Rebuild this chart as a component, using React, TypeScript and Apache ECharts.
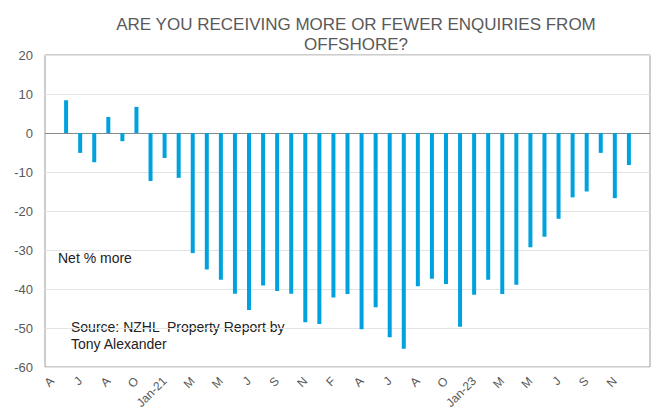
import React, { useEffect, useRef } from "react";
import * as echarts from "echarts";

const TITLE = "ARE YOU RECEIVING MORE OR FEWER ENQUIRIES FROM\nOFFSHORE?";
const NOTE = "Net % more";
const SOURCE = "Source: NZHL  Property Report by\nTony Alexander";

// Category labels as shown (every second one is displayed)
const categories = [
  "A", "M", "J", "J", "A", "S", "O", "N", "Jan-21", "F",
  "M", "A", "M", "J", "J", "A", "S", "O", "N", "Jan-22",
  "F", "M", "A", "M", "J", "J", "A", "S", "O", "N",
  "Jan-23", "F", "M", "A", "M", "J", "J", "A", "S", "O",
  "N", "D", "",
];

// Net % of respondents receiving more enquiries from offshore
const values: (number | null)[] = [
  null, 8.4, -5.1, -7.5, 4.1, -2.1, 6.7, -12.3, -6.4, -11.5,
  -30.8, -35.0, -37.6, -41.2, -45.4, -39.1, -40.5, -41.2, -48.5, -49.0,
  -42.2, -41.3, -50.3, -44.7, -52.4, -55.3, -39.3, -37.4, -38.7, -49.7,
  -41.5, -37.6, -41.3, -38.9, -29.3, -26.6, -22.0, -16.5, -15.0, -5.1,
  -16.7, -8.2, null,
];

const yTicks = { min: -60, max: 20, interval: 10 };

export default function App() {
  const ref = useRef<HTMLDivElement>(null);
  useEffect(() => {
    if (!ref.current) return;
    const chart = echarts.init(ref.current, undefined, { renderer: "svg" });
    const nLines = (yTicks.max - yTicks.min) / yTicks.interval + 1;
    const zeroIdx = (0 - yTicks.min) / yTicks.interval;
    const splitColors = Array.from({ length: nLines }, (_, i) =>
      i === zeroIdx ? "#8a8a8a" : "#e3e3e3"
    );
    chart.setOption({
      animation: false,
      backgroundColor: "#ffffff",
      textStyle: { fontFamily: "Liberation Sans, Arial, sans-serif" },
      grid: {
        left: 45,
        right: 6,
        top: 55,
        bottom: 47,
        show: true,
        borderColor: "#9a9a9a",
        borderWidth: 1,
      },
      title: {
        text: TITLE,
        left: 351,
        top: 9,
        textAlign: "center",
        textStyle: {
          fontFamily: "Liberation Sans, Arial, sans-serif",
          fontSize: 17,
          fontWeight: "normal",
          color: "#595959",
          lineHeight: 20,
        },
      },
      xAxis: {
        type: "category",
        data: categories,
        position: "bottom",
        axisLine: { show: false, onZero: false },
        axisTick: { show: false },
        axisLabel: {
          interval: 1,
          rotate: 45,
          margin: 12,
          color: "#595959",
          fontSize: 12,
          fontFamily: "Liberation Sans, Arial, sans-serif",
        },
        splitLine: { show: false },
      },
      yAxis: {
        type: "value",
        min: yTicks.min,
        max: yTicks.max,
        interval: yTicks.interval,
        axisLine: { show: false },
        axisTick: { show: false },
        axisLabel: {
          color: "#595959",
          fontSize: 13,
          margin: 12,
          fontFamily: "Liberation Sans, Arial, sans-serif",
        },
        splitLine: { show: true, lineStyle: { color: splitColors, width: 1 } },
      },
      series: [
        {
          type: "bar",
          data: values,
          barWidth: 4,
          itemStyle: { color: "#00a2dd" },
        },
      ],
      graphic: [
        {
          type: "text",
          left: 58,
          top: 251,
          style: {
            text: NOTE,
            fontSize: 14,
            fill: "#222222",
            fontFamily: "Liberation Sans, Arial, sans-serif",
          },
        },
        {
          type: "text",
          left: 71,
          top: 318,
          style: {
            text: SOURCE,
            fontSize: 14,
            lineHeight: 17,
            fill: "#222222",
            fontFamily: "Liberation Sans, Arial, sans-serif",
          },
        },
      ],
    });
    return () => chart.dispose();
  }, []);
  return (
    <div
      ref={ref}
      style={{ position: "fixed", left: 0, top: 0, width: 656, height: 414 }}
    />
  );
}
